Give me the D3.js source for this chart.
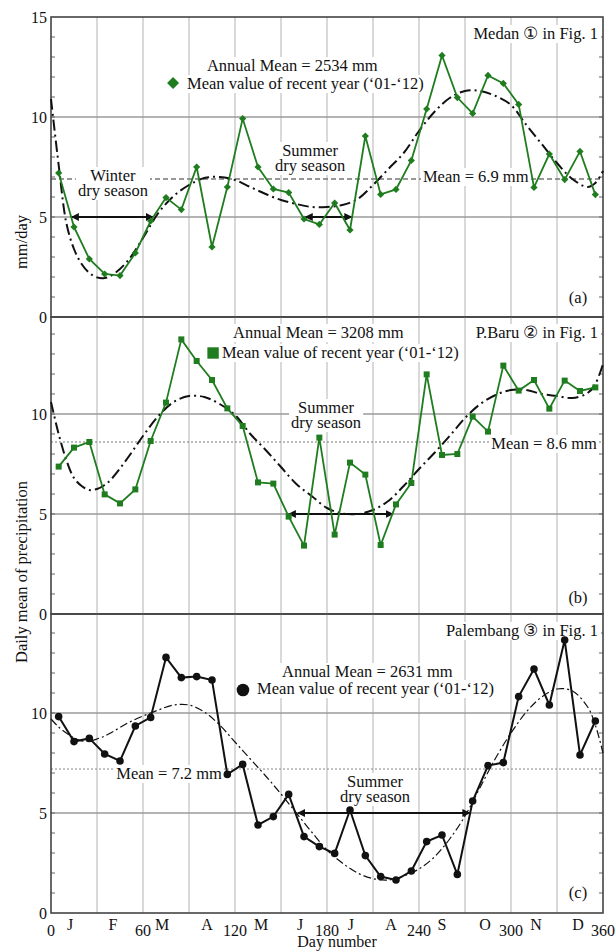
<!DOCTYPE html>
<html>
<head>
<meta charset="utf-8">
<script src="https://cdn.jsdelivr.net/npm/d3@7"></script>
<style>
body { margin: 0; background: #fff; }
text { font-family: "Liberation Serif", "Times New Roman", serif; fill: #111; }
</style>
</head>
<body>
<div id="chart"></div>
<script>
// day of year for each 10-day mean
const days = [5, 15, 25, 35, 45, 55, 65, 75, 85, 95, 105, 115, 125, 135, 145, 155, 165, 175,
              185, 195, 205, 215, 225, 235, 245, 255, 265, 275, 285, 295, 305, 315, 325, 335, 345, 355];

// mean value of recent year ('01-'12), mm/day
const medan = [7.2, 4.5, 2.9, 2.15, 2.07, 3.2, 4.8, 5.97, 5.37, 7.5, 3.5, 6.5, 9.92, 7.5, 6.4, 6.22, 4.9, 4.63,
               5.7, 4.35, 9.05, 6.13, 6.38, 7.83, 10.4, 13.08, 10.97, 10.18, 12.08, 11.68, 10.63, 6.48, 8.15, 6.87, 8.28, 6.12];
const pbaru = [7.37, 8.32, 8.6, 5.98, 5.53, 6.23, 8.65, 10.57, 13.73, 12.65, 11.7, 10.28, 9.4, 6.58, 6.52, 4.87, 3.42, 8.82,
               3.97, 7.57, 6.97, 3.45, 5.48, 6.55, 11.98, 7.95, 8.0, 9.87, 9.12, 12.42, 11.17, 11.7, 10.27, 11.67, 11.15, 11.33];
const palembang = [9.82, 8.57, 8.73, 7.95, 7.6, 9.35, 9.78, 12.78, 11.77, 11.82, 11.65, 6.93, 7.43, 4.4, 4.82, 5.93, 3.82, 3.32,
                   2.98, 5.15, 2.87, 1.82, 1.65, 2.1, 3.57, 3.9, 1.93, 5.6, 7.37, 7.52, 10.82, 12.2, 10.4, 13.65, 7.9, 9.6];

// fitted seasonal curve (dash-dot)
const fitDays = [0, 5, 10, 15, 20, 25, 30, 35, 40, 50, 60, 70, 80, 90, 100, 110, 120, 130, 140, 150, 160,
                 170, 180, 190, 200, 210, 220, 230, 240, 250, 260, 270, 280, 290, 300, 310, 320, 330, 340, 350, 355, 360];
const medanFit = [10.9, 7.6, 4.7, 3.4, 2.65, 2.2, 1.98, 1.95, 2.1, 2.8, 3.95, 5.2, 6.05, 6.6, 6.95, 7.0, 6.85, 6.5, 6.15, 5.85, 5.65,
                  5.5, 5.5, 5.6, 5.9, 6.6, 7.4, 8.2, 9.3, 10.25, 10.95, 11.3, 11.3, 11.05, 10.6, 9.6, 8.65, 7.7, 6.9, 6.5, 6.7, 7.3];
const pbaruFit = [10.6, 9.0, 7.7, 6.8, 6.4, 6.2, 6.25, 6.45, 6.8, 7.8, 8.9, 9.9, 10.6, 10.9, 10.85, 10.5, 9.95, 9.0, 8.2, 7.35, 6.5,
                  5.9, 5.3, 5.03, 5.0, 5.2, 5.65, 6.4, 7.25, 8.05, 8.9, 9.8, 10.5, 10.95, 11.2, 11.2, 11.0, 10.9, 10.8, 11.05, 11.5, 12.5];
const palembangFit = [9.7, 9.3, 9.0, 8.75, 8.6, 8.6, 8.7, 8.85, 9.05, 9.5, 9.85, 10.15, 10.4, 10.4, 10.05, 9.4, 8.55, 7.7, 6.85, 5.95, 5.0,
                      4.05, 3.15, 2.5, 2.0, 1.72, 1.65, 1.85, 2.2, 2.8, 3.7, 4.85, 6.3, 7.75, 9.0, 10.05, 10.8, 11.2, 11.1, 10.3, 9.4, 8.0];

const means = [6.9, 8.6, 7.2];
const annualMeans = [2534, 3208, 2631];
const stations = ["Medan \u2460 in Fig. 1", "P.Baru \u2461 in Fig. 1", "Palembang \u2462 in Fig. 1"];

// dry season spans [start day, end day]
const dryA = [[13.5, 66.5], [166, 196]];
const dryB = [[155, 223]];
const dryC = [[161, 273]];

const dayTicks = [0, 60, 120, 180, 240, 300, 360];
const gridDays = [30, 60, 90, 120, 150, 180, 210, 240, 270, 300, 330];
const monthLabels = ["J", "F", "M", "A", "M", "J", "J", "A", "S", "O", "N", "D"];
const monthDays = [12.4, 40.4, 72.4, 101.7, 137, 162.4, 195.5, 221.7, 255, 283, 316.4, 343.7];

const width = 615, height = 952;
const green = "#1f7d1f";

const svg = d3.select("#chart").append("svg")
    .attr("width", width)
    .attr("height", height)
    .style("background", "#fff");

const defs = svg.append("defs");
defs.append("marker").attr("id", "arrEnd")
    .attr("viewBox", "0 0 10 10").attr("refX", 9).attr("refY", 5)
    .attr("markerWidth", 4).attr("markerHeight", 4).attr("orient", "auto")
    .append("path").attr("d", "M0,0 L10,5 L0,10 z").attr("fill", "#111");
defs.append("marker").attr("id", "arrStart")
    .attr("viewBox", "0 0 10 10").attr("refX", 1).attr("refY", 5)
    .attr("markerWidth", 4).attr("markerHeight", 4).attr("orient", "auto")
    .append("path").attr("d", "M10,0 L0,5 L10,10 z").attr("fill", "#111");

const x = d3.scaleLinear().domain([0, 360]).range([51, 603]);

const panels = [
  { tag: "(a)", y0: 317, top: 17, values: medan, fit: medanFit, mean: means[0], annual: annualMeans[0], station: stations[0],
    dry: dryA, lineColor: green, marker: "diamond", showTop: true,
    fitWidth: 2, fitDash: "11,4,2,4", meanWidth: 1.5, meanDash: "5,3", meanColor: "#777",
    stationPos: [356.7, 13.9], annualPos: [101.7, 12.3], legendMark: [79.6, 11.7], legendText: [88.7, 11.4],
    meanLabel: { pos: [277, 6.75], anchor: "middle" },
    seasonLabels: [{ lines: ["Winter", "dry season"], pos: [40.4, 6.8] }, { lines: ["Summer", "dry season"], pos: [169, 8.05] }],
    tagPos: [343.7, 0.7] },
  { tag: "(b)", y0: 614, top: 317, values: pbaru, fit: pbaruFit, mean: means[1], annual: annualMeans[1], station: stations[1],
    dry: dryB, lineColor: green, marker: "square", showTop: false,
    fitWidth: 2, fitDash: "11,4,2,4", meanWidth: 1, meanDash: "2,2", meanColor: "#777",
    stationPos: [356.7, 13.8], annualPos: [118.7, 13.8], legendMark: [105.7, 13.05], legendText: [111.5, 12.8],
    meanLabel: { pos: [356, 8.25], anchor: "end" },
    seasonLabels: [{ lines: ["Summer", "dry season"], pos: [179.4, 10.05] }],
    tagPos: [343.7, 0.55] },
  { tag: "(c)", y0: 913, top: 614, values: palembang, fit: palembangFit, mean: means[2], annual: annualMeans[2], station: stations[2],
    dry: dryC, lineColor: "#111", marker: "circle", showTop: false,
    fitWidth: 1.2, fitDash: "8,3,2,3", meanWidth: 1.2, meanDash: "2,2", meanColor: "#888",
    stationPos: [356.7, 13.85], annualPos: [150.7, 11.8], legendMark: [125.2, 11.15], legendText: [134.4, 10.95],
    meanLabel: { pos: [77, 6.7], anchor: "middle" },
    seasonLabels: [{ lines: ["Summer", "dry season"], pos: [211.3, 6.3] }],
    tagPos: [343.7, 0.75] }
];

// put a white box behind a text node
function boxed(g, sel, pad) {
  const b = sel.node().getBBox();
  g.insert("rect", () => sel.node())
    .attr("x", b.x - pad).attr("y", b.y + 1)
    .attr("width", b.width + 2 * pad).attr("height", b.height - 1)
    .attr("fill", "#fff");
}

function markerPath(kind, big) {
  if (kind === "diamond") return d3.symbol(d3.symbolSquare, big ? 72 : 26)();
  if (kind === "square") return d3.symbol(d3.symbolSquare, big ? 130 : 36)();
  return d3.symbol(d3.symbolCircle, big ? 125 : 45)();
}

panels.forEach(p => {
  const y = d3.scaleLinear().domain([0, 15]).range([p.y0, p.y0 - 300]);
  const g = svg.append("g");

  // grid
  g.selectAll(".vgrid").data(gridDays).enter().append("line")
    .attr("x1", d => x(d)).attr("x2", d => x(d))
    .attr("y1", p.top).attr("y2", p.y0)
    .attr("stroke", "#c9c9c9").attr("stroke-width", 1.4);
  g.selectAll(".hgrid").data([5, 10]).enter().append("line")
    .attr("x1", x(0)).attr("x2", x(360))
    .attr("y1", d => y(d)).attr("y2", d => y(d))
    .attr("stroke", "#9a9a9a").attr("stroke-width", 1.4);

  // minor ticks on both sides
  const minor = d3.range(1, 15);
  g.selectAll(".ltick").data(minor).enter().append("line")
    .attr("x1", x(0)).attr("x2", x(0) + 4)
    .attr("y1", d => y(d)).attr("y2", d => y(d))
    .attr("stroke", "#666").attr("stroke-width", 1);
  g.selectAll(".rtick").data(minor).enter().append("line")
    .attr("x1", x(360) - 4).attr("x2", x(360))
    .attr("y1", d => y(d)).attr("y2", d => y(d))
    .attr("stroke", "#666").attr("stroke-width", 1);

  // mean line
  g.append("line")
    .attr("x1", x(0)).attr("x2", x(360))
    .attr("y1", y(p.mean)).attr("y2", y(p.mean))
    .attr("stroke", p.meanColor).attr("stroke-width", p.meanWidth)
    .attr("stroke-dasharray", p.meanDash);

  // frame
  g.append("rect")
    .attr("x", x(0)).attr("y", p.top)
    .attr("width", x(360) - x(0)).attr("height", p.y0 - p.top)
    .attr("fill", "none").attr("stroke", "#444").attr("stroke-width", 1.6);

  // y tick labels
  const yLabels = p.showTop ? [0, 5, 10, 15] : [0, 5, 10];
  g.selectAll(".ylab").data(yLabels).enter().append("text")
    .attr("x", 47).attr("y", d => y(d)).attr("dy", "0.35em")
    .attr("text-anchor", "end").style("font-size", "16px")
    .text(d => d);

  // annotation texts
  const fs = "16.5px";
  const st = g.append("text")
    .attr("x", x(p.stationPos[0])).attr("y", y(p.stationPos[1]))
    .attr("text-anchor", "end").style("font-size", fs).text(p.station);
  boxed(g, st, 3);

  const an = g.append("text")
    .attr("x", x(p.annualPos[0])).attr("y", y(p.annualPos[1]))
    .style("font-size", fs).text("Annual Mean = " + p.annual + " mm");
  boxed(g, an, 2);

  const lt = g.append("text")
    .attr("x", x(p.legendText[0])).attr("y", y(p.legendText[1]))
    .style("font-size", fs).text("Mean value of recent year (\u201801-\u201812)");
  boxed(g, lt, 2);
  g.append("path")
    .attr("d", markerPath(p.marker, true))
    .attr("transform", `translate(${x(p.legendMark[0])},${y(p.legendMark[1])})` + (p.marker === "diamond" ? " rotate(45)" : ""))
    .attr("fill", p.lineColor);

  const ml = g.append("text")
    .attr("x", x(p.meanLabel.pos[0])).attr("y", y(p.meanLabel.pos[1]))
    .attr("text-anchor", p.meanLabel.anchor).style("font-size", fs)
    .text("Mean = " + p.mean + " mm");
  boxed(g, ml, 2);

  p.seasonLabels.forEach(s => {
    const tx = g.append("text")
      .attr("x", x(s.pos[0])).attr("y", y(s.pos[1]))
      .attr("text-anchor", "middle").style("font-size", fs);
    s.lines.forEach((t, i) => {
      tx.append("tspan").attr("x", x(s.pos[0])).attr("dy", i ? 15 : 0).text(t);
    });
    boxed(g, tx, 2);
  });

  g.append("text")
    .attr("x", x(p.tagPos[0])).attr("y", y(p.tagPos[1]))
    .attr("text-anchor", "middle").style("font-size", fs).text(p.tag);

  // fitted curve
  const fitLine = d3.line()
    .x((d, i) => x(fitDays[i])).y(d => y(d))
    .curve(d3.curveCatmullRom.alpha(0.5));
  g.append("path")
    .attr("d", fitLine(p.fit))
    .attr("fill", "none").attr("stroke", "#111")
    .attr("stroke-width", p.fitWidth).attr("stroke-dasharray", p.fitDash);

  // dry season arrows
  g.selectAll(".dry").data(p.dry).enter().append("line")
    .attr("x1", d => x(d[0])).attr("x2", d => x(d[1]))
    .attr("y1", y(5)).attr("y2", y(5))
    .attr("stroke", "#111").attr("stroke-width", 2)
    .attr("marker-start", "url(#arrStart)").attr("marker-end", "url(#arrEnd)");

  // data series
  const dataLine = d3.line().x((d, i) => x(days[i])).y(d => y(d));
  g.append("path")
    .attr("d", dataLine(p.values))
    .attr("fill", "none").attr("stroke", p.lineColor)
    .attr("stroke-width", p.marker === "circle" ? 2 : 1.8);
  g.selectAll(".pt").data(p.values).enter().append("path")
    .attr("d", markerPath(p.marker, false))
    .attr("transform", (d, i) => `translate(${x(days[i])},${y(d)})` + (p.marker === "diamond" ? " rotate(45)" : ""))
    .attr("fill", p.lineColor);
});

// bottom axis labels
svg.selectAll(".dtick").data(dayTicks).enter().append("text")
  .attr("x", d => x(d)).attr("y", 936)
  .attr("text-anchor", "middle").style("font-size", "16px")
  .text(d => d);
svg.selectAll(".mtick").data(monthLabels).enter().append("text")
  .attr("x", (d, i) => x(monthDays[i])).attr("y", 930)
  .attr("text-anchor", "middle").style("font-size", "16px")
  .text(d => d);

svg.append("text")
  .attr("x", 337).attr("y", 947)
  .attr("text-anchor", "middle").style("font-size", "16px")
  .text("Day number");

svg.append("text")
  .attr("transform", "translate(27,242) rotate(-90)")
  .attr("text-anchor", "middle").style("font-size", "16.5px")
  .text("mm/day");
svg.append("text")
  .attr("transform", "translate(27,572) rotate(-90)")
  .attr("text-anchor", "middle").style("font-size", "16.5px")
  .text("Daily mean of precipitation");
</script>
</body>
</html>
